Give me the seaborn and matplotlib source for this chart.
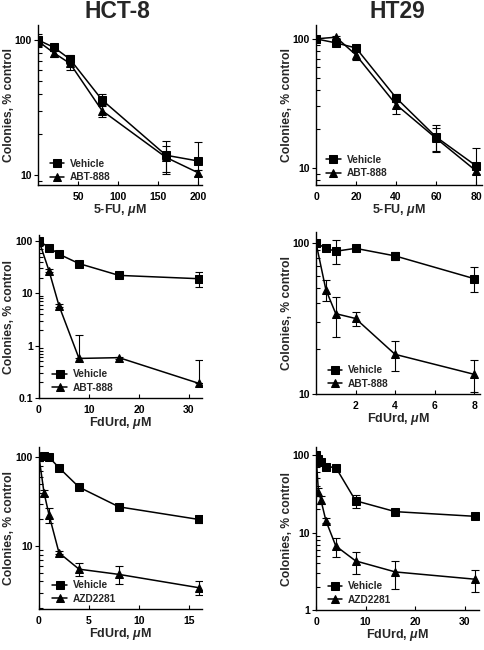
import numpy as np
import pandas as pd
import matplotlib
matplotlib.use("Agg")
import matplotlib.pyplot as plt
import seaborn as sns
from matplotlib.ticker import FixedLocator, LogLocator, NullFormatter, FixedFormatter

# ---------------- data ----------------
# Panel A: HCT-8, 5-FU
a_x = [0, 20, 40, 80, 160, 200]
a_veh = [100, 88, 72, 36, 14, 12.7]
a_veh_err = [11, 5, 6, 3.5, 3.8, 4.8]
a_drug = [98, 80, 67, 30, 13.5, 10.4]
a_drug_err = [5, 5, 7, 3, 3, 0.5]

# Panel B: HT29, 5-FU
b_x = [0, 10, 20, 40, 60, 80]
b_veh = [100, 93, 85, 35, 17.4, 10.4]
b_veh_err = [3, 3, 4, 2.5, 4.0, 4.0]
b_drug = [100, 103, 75, 31, 17, 9.5]
b_drug_err = [2, 2, 6, 5, 3.5, 0.5]

# Panel C: HCT-8, FdUrd + ABT-888
c_x = [0, 2, 4, 8, 16, 32]
c_veh = [100, 75, 56, 37, 22, 19]
c_veh_err = [6, 3, 3, 2, 1.5, 6]
c_drug = [100, 27, 5.8, 0.57, 0.59, 0.19]
c_drug_err_lo = [5, 2, 0.4, 0, 0.03, 0]
c_drug_err_hi = [5, 2, 0.4, 1.0, 0.03, 0.34]

# Panel D: HT29, FdUrd + ABT-888
d_x = [0, 0.5, 1, 2, 4, 8]
d_veh = [100, 92, 88, 92, 82, 58]
d_veh_err = [4, 3, 16, 3, 5, 11]
d_drug = [100, 49, 34, 31.6, 18.3, 13.5]
d_drug_err = [3, 8, 10, 3.5, 4, 3.2]

# Panel E: HCT-8, FdUrd + AZD2281
e_x = [0, 0.5, 1, 2, 4, 8, 16]
e_veh = [100, 104, 100, 76, 46, 27.6, 19.9]
e_veh_err = [8, 5, 3, 3, 2, 1.5, 1.5]
e_drug = [100, 40, 22.5, 8.4, 5.5, 4.8, 3.4]
e_drug_err = [5, 3, 4.5, 0.3, 0.9, 1.1, 0.6]

# Panel F: HT29, FdUrd + AZD2281
f_x = [0, 0.5, 1, 2, 4, 8, 16, 32]
f_veh = [100, 90, 82, 71, 69, 25.7, 18.6, 16.2]
f_veh_err = [5, 5, 5, 3, 3, 5, 1.5, 1]
f_drug = [100, 33.6, 26.2, 14.2, 6.7, 4.3, 3.1, 2.5]
f_drug_err = [5, 4, 3, 1, 1.9, 1.35, 1.25, 0.8]

titles = ["HCT-8", "HT29"]
xlabels = ["5-FU, $\\mu$M", "5-FU, $\\mu$M", "FdUrd, $\\mu$M", "FdUrd, $\\mu$M",
           "FdUrd, $\\mu$M", "FdUrd, $\\mu$M"]
ylabel = "Colonies, % control"
drug_names = ["ABT-888", "ABT-888", "ABT-888", "ABT-888", "AZD2281", "AZD2281"]

panels = [
    dict(x=a_x, veh=a_veh, vlo=a_veh_err, vhi=a_veh_err, drug=a_drug, dlo=a_drug_err, dhi=a_drug_err,
         xlim=(0, 205), ylim=(8.43, 129), xticks=[50, 100, 150, 200], yticks=[10, 100],
         ylabs=["10", "100"], box=(38, 202, 25, 185), leg=(0.06, 0.005)),
    dict(x=b_x, veh=b_veh, vlo=b_veh_err, vhi=b_veh_err, drug=b_drug, dlo=b_drug_err, dhi=b_drug_err,
         xlim=(0, 83), ylim=(7.38, 128), xticks=[0, 20, 40, 60, 80], yticks=[10, 100],
         ylabs=["10", "100"], box=(316, 482, 25, 185), leg=(0.05, 0.03)),
    dict(x=c_x, veh=c_veh, vlo=c_veh_err, vhi=c_veh_err, drug=c_drug, dlo=c_drug_err_lo, dhi=c_drug_err_hi,
         xlim=(0, 32.6), ylim=(0.1, 130), xticks=[0, 10, 20, 30], yticks=[0.1, 1, 10, 100],
         ylabs=["0.1", "1", "10", "100"], box=(39, 202, 235, 398), leg=(0.07, 0.02)),
    dict(x=d_x, veh=d_veh, vlo=d_veh_err, vhi=d_veh_err, drug=d_drug, dlo=d_drug_err, dhi=d_drug_err,
         xlim=(0, 8.3), ylim=(10, 118), xticks=[2, 4, 6, 8], yticks=[10, 100],
         ylabs=["10", "100"], box=(316, 480, 232, 394), leg=(0.06, 0.02)),
    dict(x=e_x, veh=e_veh, vlo=e_veh_err, vhi=e_veh_err, drug=e_drug, dlo=e_drug_err, dhi=e_drug_err,
         xlim=(0, 16.3), ylim=(1.96, 130), xticks=[0, 5, 10, 15], yticks=[10, 100],
         ylabs=["10", "100"], box=(39, 202, 447, 609), leg=(0.07, 0.02)),
    dict(x=f_x, veh=f_veh, vlo=f_veh_err, vhi=f_veh_err, drug=f_drug, dlo=f_drug_err, dhi=f_drug_err,
         xlim=(0, 32.9), ylim=(1, 127), xticks=[0, 10, 20, 30], yticks=[1, 10, 100],
         ylabs=["1", "10", "100"], box=(316, 479, 447, 610), leg=(0.06, 0.02)),
]

# ---------------- style ----------------
sns.set_style("ticks")
plt.rcParams["font.family"] = ["Liberation Sans", "DejaVu Sans"]
plt.rcParams["font.weight"] = "bold"
plt.rcParams["mathtext.fontset"] = "custom"
plt.rcParams["mathtext.it"] = "Liberation Sans:bold:italic"
plt.rcParams["mathtext.rm"] = "Liberation Sans:bold"
plt.rcParams["mathtext.bf"] = "Liberation Sans:bold"
plt.rcParams["mathtext.default"] = "it"

W, H = 484, 650
fig = plt.figure(figsize=(W / 100, H / 100), dpi=100)

for i, p in enumerate(panels):
    l, r, t, b = p["box"]
    ax = fig.add_axes([l / W, 1 - b / H, (r - l) / W, (b - t) / H])
    dname = drug_names[i]
    df = pd.DataFrame({
        "x": list(p["x"]) * 2,
        "y": list(p["veh"]) + list(p["drug"]),
        "series": ["Vehicle"] * len(p["x"]) + [dname] * len(p["x"]),
    })
    # error bars
    ax.errorbar(p["x"], p["veh"], yerr=[p["vlo"], p["vhi"]], fmt="none", ecolor="black",
                elinewidth=0.8, capsize=3, capthick=0.8, zorder=1)
    ax.errorbar(p["x"], p["drug"], yerr=[p["dlo"], p["dhi"]], fmt="none", ecolor="black",
                elinewidth=0.8, capsize=3, capthick=0.8, zorder=1)
    sns.lineplot(data=df, x="x", y="y", hue="series", style="series",
                 markers={"Vehicle": "s", dname: "^"}, dashes=False,
                 palette={"Vehicle": "black", dname: "black"},
                 markersize=6.2, markeredgecolor="black", linewidth=1.1,
                 ax=ax, zorder=3, estimator=None, sort=True)
    ax.set_yscale("log")
    ax.set_xlim(*p["xlim"])
    ax.set_ylim(*p["ylim"])
    ax.set_xticks(p["xticks"])
    ax.set_xticklabels([str(v) for v in p["xticks"]])
    ax.yaxis.set_major_locator(FixedLocator(p["yticks"]))
    ax.yaxis.set_major_formatter(FixedFormatter(p["ylabs"]))
    ax.yaxis.set_minor_locator(LogLocator(base=10, subs=np.arange(2, 10)))
    ax.yaxis.set_minor_formatter(NullFormatter())
    for s in ["top", "right"]:
        ax.spines[s].set_visible(False)
    for s in ["left", "bottom"]:
        ax.spines[s].set_linewidth(1.0)
        ax.spines[s].set_color("black")
    ax.tick_params(axis="x", which="major", direction="in", length=3, width=0.8,
                   pad=5, labelsize=7.5, colors="black")
    ax.tick_params(axis="y", which="major", direction="out", length=3, width=0.8,
                   pad=1.5, labelsize=7.5, colors="black")
    ax.tick_params(axis="y", which="minor", direction="in", length=3, width=0.8, colors="black")
    for lab in ax.get_xticklabels() + ax.get_yticklabels():
        lab.set_fontweight("bold")
    ax.set_xlabel(xlabels[i], fontsize=9, fontweight="bold")
    ax.set_ylabel(ylabel, fontsize=8.7, fontweight="bold")
    # label positions: pixel offsets from the spines converted to axes fraction
    ax.yaxis.set_label_coords(-23.5 / (r - l), 0.5)
    ax.xaxis.set_label_coords(0.5, -17.0 / (b - t))
    h, lb = ax.get_legend_handles_labels()
    ax.legend(h, lb, loc="lower left", bbox_to_anchor=p["leg"], frameon=False,
              prop={"size": 7.3, "weight": "bold"}, handlelength=1.4, handletextpad=0.6,
              labelspacing=0.35, borderaxespad=0, borderpad=0.2)

fig.text(117 / W, 1 - 12 / H, titles[0], ha="center", va="center", fontsize=16.5, fontweight="bold")
fig.text(397 / W, 1 - 12 / H, titles[1], ha="center", va="center", fontsize=16.5, fontweight="bold")

fig.savefig("out.png", dpi=100)
